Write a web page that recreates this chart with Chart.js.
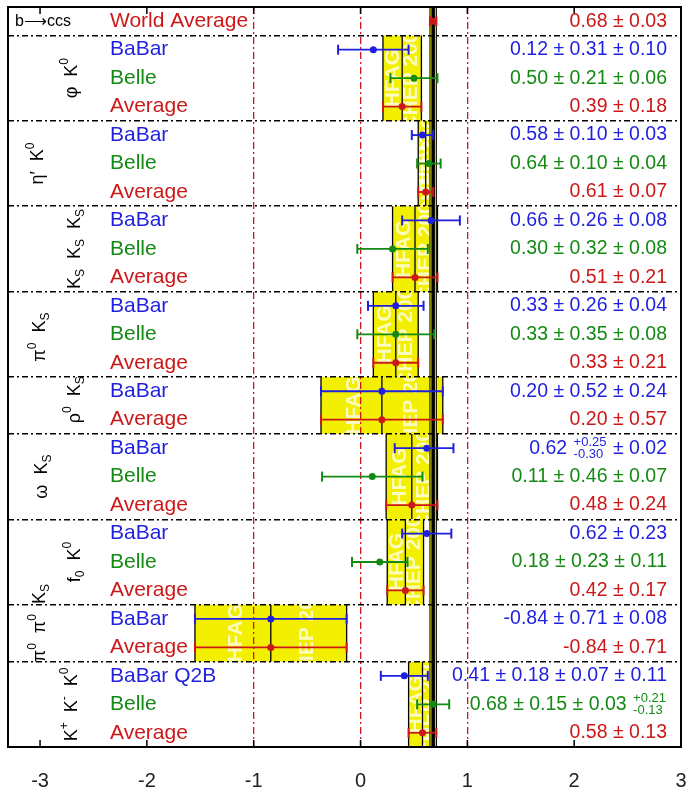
<!DOCTYPE html>
<html>
<head>
<meta charset="utf-8">
<script src="https://cdn.jsdelivr.net/npm/chart.js@4.4.0/dist/chart.umd.min.js"></script>
<style>
  html, body { margin: 0; padding: 0; background: #fff; }
  canvas { display: block; }
</style>
</head>
<body>
<canvas id="myChart" width="688" height="793"></canvas>
<script>
// rows, top to bottom
var rowLabels = [
  "World Average",
  "BaBar", "Belle", "Average",
  "BaBar", "Belle", "Average",
  "BaBar", "Belle", "Average",
  "BaBar", "Belle", "Average",
  "BaBar", "Average",
  "BaBar", "Belle", "Average",
  "BaBar", "Belle", "Average",
  "BaBar", "Average",
  "BaBar Q2B", "Belle", "Average",
];
var centers = [
  0.68,
  0.12, 0.50, 0.39,
  0.58, 0.64, 0.61,
  0.66, 0.30, 0.51,
  0.33, 0.33, 0.33,
  0.20, 0.20,
  0.62, 0.11, 0.48,
  0.62, 0.18, 0.42,
  -0.84, -0.84,
  0.41, 0.68, 0.58,
];
// total errors (stat and syst together)
var errMinus = [
  0.03,
  0.33, 0.22, 0.18,
  0.10, 0.11, 0.07,
  0.27, 0.33, 0.21,
  0.26, 0.36, 0.21,
  0.57, 0.57,
  0.30, 0.47, 0.24,
  0.23, 0.26, 0.17,
  0.71, 0.71,
  0.22, 0.15, 0.13,
];
var errPlus = [
  0.03,
  0.33, 0.22, 0.18,
  0.10, 0.11, 0.07,
  0.27, 0.33, 0.21,
  0.26, 0.36, 0.21,
  0.57, 0.57,
  0.25, 0.47, 0.24,
  0.23, 0.26, 0.17,
  0.71, 0.71,
  0.22, 0.15, 0.13,
];
var valueTexts = [
  "0.68 ± 0.03",
  "0.12 ± 0.31 ± 0.10", "0.50 ± 0.21 ± 0.06", "0.39 ± 0.18",
  "0.58 ± 0.10 ± 0.03", "0.64 ± 0.10 ± 0.04", "0.61 ± 0.07",
  "0.66 ± 0.26 ± 0.08", "0.30 ± 0.32 ± 0.08", "0.51 ± 0.21",
  "0.33 ± 0.26 ± 0.04", "0.33 ± 0.35 ± 0.08", "0.33 ± 0.21",
  "0.20 ± 0.52 ± 0.24", "0.20 ± 0.57",
  "0.62 @{+0.25|-0.30} ± 0.02", "0.11 ± 0.46 ± 0.07", "0.48 ± 0.24",
  "0.62 ± 0.23", "0.18 ± 0.23 ± 0.11", "0.42 ± 0.17",
  "-0.84 ± 0.71 ± 0.08", "-0.84 ± 0.71",
  "0.41 ± 0.18 ± 0.07 ± 0.11", "0.68 ± 0.15 ± 0.03 @{+0.21|-0.13}", "0.58 ± 0.13",
];

// modes: first row of each group and the row holding its average
var groupNames = [
  "φ K^{0}", "η′ K^{0}", "K_{S} K_{S} K_{S}", "π^{0} K_{S}", "ρ^{0} K_{S}",
  "ω K_{S}", "f_{0} K^{0}", "π^{0} π^{0} K_{S}", "K^{+} K^{-} K^{0}",
];
var groupFirstRow = [1, 4, 7, 10, 13, 15, 18, 21, 23];
var groupAvgRow = [3, 6, 9, 12, 14, 17, 20, 22, 25];

var worldAvg = 0.68;
var worldErr = 0.03;
var xTicks = [-3, -2, -1, 0, 1, 2, 3];
var redLines = [-1, 0, 1];

// where the rotated mode labels sit (px from left, row position)
var groupLabelX = [72, 38, 75, 40, 75, 42, 75, 40, 72];
var groupLabelRow = [2.5, 5.5, 8.5, 11.6, 13.8, 16.5, 19.5, 21.65, 24.5];

var FONT = '"Liberation Sans", Arial, sans-serif';
var BLUE = "#1f1fe0", GREEN = "#138a13", RED = "#cc1818";

function rowColor(label) {
  if (label.indexOf("BaBar") === 0) return BLUE;
  if (label.indexOf("Belle") === 0) return GREEN;
  return RED;
}

// tiny rich text: ^{sup} _{sub} @{top|bottom}
function parseRich(s) {
  var parts = [], re = /(\^\{[^}]*\}|_\{[^}]*\}|@\{[^}]*\})/g, last = 0, m;
  while ((m = re.exec(s))) {
    if (m.index > last) parts.push({ t: s.slice(last, m.index), k: "n" });
    parts.push({ t: m[0].slice(2, -1), k: m[0][0] });
    last = re.lastIndex;
  }
  if (last < s.length) parts.push({ t: s.slice(last), k: "n" });
  return parts;
}
function partWidth(ctx, p, size) {
  if (p.k === "n") { ctx.font = size + "px " + FONT; return ctx.measureText(p.t).width; }
  var small = Math.round(size * 0.68);
  ctx.font = small + "px " + FONT;
  if (p.k === "@") {
    var ab = p.t.split("|");
    return Math.max(ctx.measureText(ab[0]).width, ctx.measureText(ab[1]).width) + 2;
  }
  return ctx.measureText(p.t).width;
}
function drawRich(ctx, s, x, y, size, align) {
  var parts = parseRich(s);
  var total = 0;
  parts.forEach(function (p) { total += partWidth(ctx, p, size); });
  var cx = align === "right" ? x - total : align === "center" ? x - total / 2 : x;
  ctx.textBaseline = "middle";
  ctx.textAlign = "left";
  parts.forEach(function (p) {
    var w = partWidth(ctx, p, size);
    if (p.k === "n") {
      ctx.font = size + "px " + FONT;
      ctx.fillText(p.t, cx, y);
    } else {
      ctx.font = Math.round(size * 0.68) + "px " + FONT;
      if (p.k === "^") ctx.fillText(p.t, cx, y - size * 0.38);
      else if (p.k === "_") ctx.fillText(p.t, cx, y + size * 0.32);
      else {
        var ab = p.t.split("|");
        ctx.fillText(ab[0], cx + 1, y - size * 0.3);
        ctx.fillText(ab[1], cx + 1, y + size * 0.3);
      }
    }
    cx += w;
  });
}

// yellow average boxes + world average band, drawn under the grid
var boxPlugin = {
  id: "boxes",
  beforeDraw: function (chart) {
    var ctx = chart.ctx, xs = chart.scales.x, ys = chart.scales.y, area = chart.chartArea;
    ctx.save();
    ctx.fillStyle = "#fff";
    ctx.fillRect(0, 0, chart.width, chart.height);

    groupFirstRow.forEach(function (first, g) {
      var r = groupAvgRow[g];
      var x1 = xs.getPixelForValue(centers[r] - errMinus[r]);
      var x2 = xs.getPixelForValue(centers[r] + errPlus[r]);
      var xc = xs.getPixelForValue(centers[r]);
      var y1 = ys.getPixelForValue(first);
      var y2 = ys.getPixelForValue(r + 1);
      ctx.fillStyle = "#f2ef00";
      ctx.fillRect(x1, y1, x2 - x1, y2 - y1);

      // watermark
      ctx.save();
      ctx.beginPath();
      ctx.rect(x1, y1, x2 - x1, y2 - y1);
      ctx.clip();
      ctx.fillStyle = "rgba(255,255,255,0.75)";
      ctx.font = "bold 21px " + FONT;
      ctx.textAlign = "center";
      ctx.textBaseline = "middle";
      var w = x2 - x1, ym = (y1 + y2) / 2;
      [["HFAG", 0.27], ["ICHEP 2006", 0.74]].forEach(function (t) {
        ctx.save();
        ctx.translate(x1 + w * t[1], ym);
        ctx.rotate(-Math.PI / 2);
        ctx.fillText(t[0], 0, 0);
        ctx.restore();
      });
      ctx.restore();

      ctx.strokeStyle = "#000";
      ctx.lineWidth = 1.3;
      ctx.beginPath();
      ctx.moveTo(x1, y1); ctx.lineTo(x1, y2);
      ctx.moveTo(x2, y1); ctx.lineTo(x2, y2);
      ctx.moveTo(xc, y1); ctx.lineTo(xc, y2);
      ctx.stroke();
    });

    // world average band
    var b1 = xs.getPixelForValue(worldAvg - worldErr);
    var b2 = xs.getPixelForValue(worldAvg + worldErr);
    ctx.fillStyle = "#f2ef00";
    ctx.fillRect(b1, area.top, b2 - b1, area.bottom - area.top);
    ctx.strokeStyle = "#000";
    ctx.lineWidth = 1;
    ctx.beginPath();
    ctx.moveTo(b1, area.top); ctx.lineTo(b1, area.bottom);
    ctx.moveTo(b2, area.top); ctx.lineTo(b2, area.bottom);
    ctx.stroke();
    ctx.restore();
  },
  afterDraw: function (chart) {
    var ctx = chart.ctx, xs = chart.scales.x, ys = chart.scales.y, area = chart.chartArea;
    ctx.save();
    // frame and inside ticks
    ctx.strokeStyle = "#000";
    ctx.lineWidth = 2;
    ctx.strokeRect(area.left, area.top, area.right - area.left, area.bottom - area.top);
    ctx.lineWidth = 1.5;
    ctx.beginPath();
    xTicks.forEach(function (v) {
      var px = xs.getPixelForValue(v);
      ctx.moveTo(px, area.bottom); ctx.lineTo(px, area.bottom - 7);
      ctx.moveTo(px, area.top); ctx.lineTo(px, area.top + 7);
    });
    ctx.stroke();

    // row names and values
    rowLabels.forEach(function (label, i) {
      var y = ys.getPixelForValue(i + 0.5);
      ctx.fillStyle = rowColor(label);
      drawRich(ctx, label, area.left + 102, y, 21, "left");
      drawRich(ctx, valueTexts[i], area.right - 14, y, 19.5, "right");
    });

    // mode names, rotated
    ctx.fillStyle = "#000";
    groupNames.forEach(function (name, g) {
      ctx.save();
      ctx.translate(groupLabelX[g], ys.getPixelForValue(groupLabelRow[g]));
      ctx.rotate(-Math.PI / 2);
      drawRich(ctx, name.replace(/ /g, "  "), 0, 0, 18, "center");
      ctx.restore();
    });
    drawRich(ctx, "b⟶ccs", area.left + 7, ys.getPixelForValue(0.5), 16, "left");
    ctx.restore();
  },
};

var datasets = [];
rowLabels.forEach(function (label, i) {
  var y = i + 0.5;
  datasets.push({
    data: [
      { x: centers[i] - errMinus[i], y: y },
      { x: centers[i], y: y },
      { x: centers[i] + errPlus[i], y: y },
    ],
    showLine: true,
    borderColor: rowColor(label),
    backgroundColor: rowColor(label),
    borderWidth: 1.8,
    pointStyle: function (c) { return c.dataIndex === 1 ? "circle" : "line"; },
    rotation: function (c) { return c.dataIndex === 1 ? 0 : 90; },
    pointRadius: function (c) { return c.dataIndex === 1 ? 2.5 : 5; },
    pointBorderWidth: 2,
    order: 0,
  });
});
// black line at the world average
datasets.push({
  data: [{ x: worldAvg, y: 0 }, { x: worldAvg, y: 26 }],
  showLine: true,
  borderColor: "#000",
  borderWidth: 3.5,
  pointRadius: 0,
  order: 1,
});

var ctx = document.getElementById("myChart").getContext("2d");
var myChart = new Chart(ctx, {
  type: "scatter",
  data: { datasets: datasets },
  options: {
    responsive: false,
    animation: false,
    layout: { padding: { left: 8, top: 7, right: 7, bottom: 0 } },
    plugins: { legend: { display: false }, tooltip: { enabled: false } },
    scales: {
      x: {
        type: "linear",
        min: -3.3,
        max: 3.0,
        afterBuildTicks: function (s) { s.ticks = xTicks.map(function (v) { return { value: v }; }); },
        afterFit: function (s) { s.height = 46; s.paddingLeft = 0; s.paddingRight = 0; },
        grid: {
          color: function (c) { return c.tick && redLines.indexOf(c.tick.value) >= 0 ? "#d01818" : "rgba(0,0,0,0)"; },
          lineWidth: 1.3,
          drawTicks: false,
        },
        border: { display: false, dash: [7, 3, 2, 3] },
        ticks: { padding: 22, color: "#222", font: { family: FONT, size: 20 } },
      },
      y: {
        type: "linear",
        min: 0,
        max: 26,
        reverse: true,
        afterBuildTicks: function (s) { s.ticks = groupFirstRow.map(function (v) { return { value: v }; }); },
        grid: { color: "#000", lineWidth: 1.5, drawTicks: false },
        border: { display: false, dash: [6, 3, 2, 3] },
        ticks: { display: false },
      },
    },
  },
  plugins: [boxPlugin],
});
</script>
</body>
</html>
